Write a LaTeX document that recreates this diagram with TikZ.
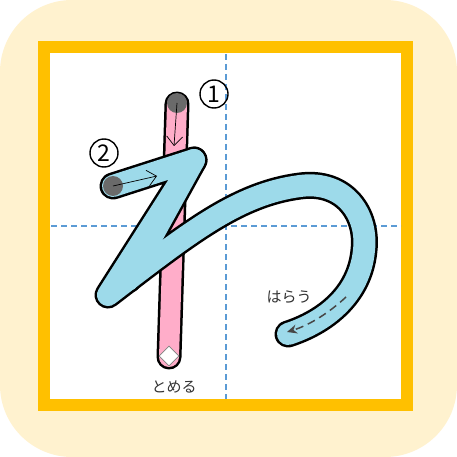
\documentclass[tikz,border=0pt]{standalone}
\usepackage{fontspec}
\newfontfamily\jpfont{Noto Sans CJK JP}
\usetikzlibrary{arrows.meta}
\definecolor{cream}{HTML}{FFF2CF}
\definecolor{frameor}{HTML}{FFC000}
\definecolor{guide}{HTML}{5B9BD5}
\definecolor{strokeblue}{HTML}{9DDAEA}
\definecolor{strokepink}{HTML}{FFADC9}
\definecolor{dot}{HTML}{6A6A6A}
\definecolor{txt}{HTML}{333333}
\tikzset{
  guideline/.style={guide, line width=1.2pt, dash pattern=on 6pt off 4pt},
  outerline/.style={black, line width=27pt, line cap=round, line join=round},
  innerblue/.style={strokeblue, line width=22pt, line cap=round, line join=round},
  outerpink/.style={black, line width=25pt, line cap=round},
  innerpink/.style={strokepink, line width=20pt, line cap=round},
  startdot/.style={circle, fill=dot, minimum size=20pt, inner sep=0pt},
  dirarrow/.style={black, line width=0.7pt, -{Straight Barb[length=9pt, width=16pt]}},
  numcircle/.style={circle, draw=black, line width=1.4pt, minimum size=28pt, inner sep=0pt, font=\jpfont\fontsize{23pt}{23pt}\selectfont},
  jplabel/.style={font=\jpfont\fontsize{15pt}{15pt}\selectfont, text=txt},
}
\begin{document}
\begin{tikzpicture}[x=1pt, y=-1pt]
\useasboundingbox (0,0) rectangle (457,457);
% background
\fill[white] (0,0) rectangle (457,457);
\fill[cream, rounded corners=72pt] (0,0) rectangle (457,457);
% frame
\fill[white] (44,47.5) rectangle (407,404.5);
\draw[frameor, line width=12pt] (44,47.5) rectangle (407,404.5);
% guides
\coordinate (gt) at (226,54);
\coordinate (gb) at (226,399);
\coordinate (gl) at (51,226);
\coordinate (gr) at (401,226);
\draw[guideline] (gt) -- (gb);
\draw[guideline] (gl) -- (gr);
% stroke 1 (pink)
\coordinate (p1) at (177,104);
\coordinate (p2) at (169,357);
\draw[outerpink] (p1) -- (p2);
\draw[innerpink] (p1) -- (p2);
% stroke 2 (blue)
\coordinate (s) at (113,186);
\coordinate (c) at (194,160);
\coordinate (b) at (108,295);
\coordinate (bw) at (128,280);
\coordinate (m1) at (300,186);
\coordinate (m2) at (364,250);
\coordinate (e) at (288,334);
\foreach \sty in {outerline, innerblue}{
  \draw[\sty] (c) -- (bw);
  \draw[\sty] (s) -- (c) -- (b)
    .. controls (190,232) and (238,194) .. (m1)
    .. controls (345,180) and (368,215) .. (m2)
    .. controls (360,295) and (325,322) .. (e);
}
% start dots
\node[startdot] (d1) at (177,103) {};
\node[startdot] (d2) at (113,186) {};
% direction arrows
\coordinate (a1) at (174,146);
\coordinate (a2) at (157,176);
\draw[dirarrow] (d1.center) -- (a1);
\draw[dirarrow] (d2.center) -- (a2);
% stop diamond
\node[draw=gray, fill=white, line width=0.8pt, minimum size=14pt, inner sep=0pt, rotate=45] (dia) at (169,356) {};
% harai dashed arrow
\coordinate (h1) at (346,297);
\coordinate (h2) at (287,332);
\draw[txt!90, line width=1.5pt, dash pattern=on 8pt off 5pt, -{Stealth[length=10pt, width=9pt]}]
  (h1) .. controls (330,312) and (310,325) .. (h2);
% numbers
\node[numcircle] (n1) at (214,94) {1};
\node[numcircle] (n2) at (104,153) {2};
% labels
\node[jplabel] (tome) at (174,387) {とめる};
\node[jplabel] (harau) at (289,297) {はらう};
\end{tikzpicture}
\end{document}
